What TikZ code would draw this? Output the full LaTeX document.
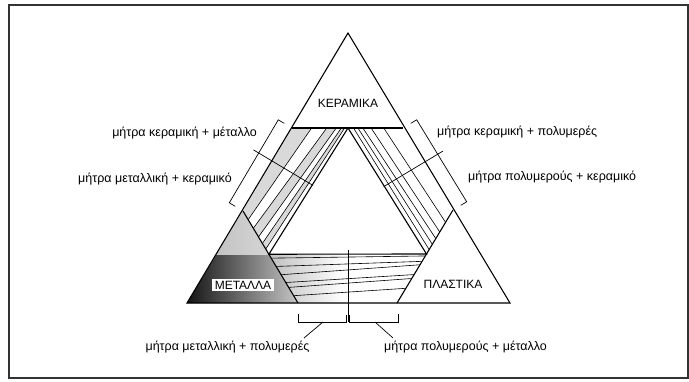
\documentclass[tikz,border=0pt]{standalone}
\usepackage{fontspec}
\setmainfont{Liberation Sans}
\usetikzlibrary{calc}
\begin{document}
\begin{tikzpicture}[x=1pt,y=-1pt,
  edge/.style={line width=1.1pt, line join=miter},
  band/.style={line width=0.6pt},
  brk/.style={line width=0.7pt},
  lbl/.style={font=\fontsize{12.5}{14}\selectfont, inner sep=0pt},
  captxt/.style={font=\fontsize{12}{14}\selectfont, inner sep=1.5pt}]
\useasboundingbox (0,0) rectangle (689,381);
\draw[line width=2pt, black!80] (9,5) rectangle (688,378);
% main points
\coordinate (A) at (348,33);
\coordinate (BL) at (187,303);
\coordinate (BR) at (510,303);
\coordinate (TL) at (292,128);
\coordinate (TR) at (403,128);
\coordinate (TM) at (348,128);
\coordinate (MR) at (298,303);
\coordinate (MA) at (243,211);
\coordinate (PL) at (397,303);
\coordinate (PA) at (453,210);
\coordinate (IL) at ($(MA)!0.47!(MR)$);
\coordinate (IR) at ($(PA)!0.473!(PL)$);
% METALLA shading
\fill[gray!40] (BL) -- (MR) -- (MA) -- cycle;
\begin{scope}
  \clip (BL) -- (MR) -- (MA) -- cycle;
  \shade[left color=black!92, middle color=black!80, right color=gray!45] (187,254) rectangle (298,305);
  \shade[left color=gray!55, right color=gray!25] (187,205) rectangle (298,254);
\end{scope}
% left band strips
\foreach \pa/\qa/\pb/\qb in {0/0/0.35/0.2, 0.62/0.4/0.79/0.6, 0.88/0.75/0.94/0.88}
  \fill[gray!30] ($(TL)!\pa!(TM)$) -- ($(TL)!\pb!(TM)$) -- ($(MA)!\qb!(IL)$) -- ($(MA)!\qa!(IL)$) -- cycle;
% bottom band shading
\begin{scope}
  \clip (IL) -- (IR) -- (PL) -- (MR) -- cycle;
  \shade[left color=gray!50, right color=white] (268,254) rectangle (345,303);
\end{scope}
% band lines
\foreach \p/\q in {0.35/0.2,0.62/0.4,0.79/0.6,0.88/0.75,0.94/0.88}
  \draw[band] ($(TL)!\p!(TM)$) -- ($(MA)!\q!(IL)$);
\foreach \p/\q in {0.1/0.1,0.18/0.22,0.27/0.35,0.42/0.5,0.65/0.72}
  \draw[band] ($(TM)!\p!(TR)$) -- ($(IR)!\q!(PA)$);
\foreach \t/\s in {0.08/0.04,0.25/0.15,0.42/0.22,0.58/0.42,0.68/0.5,0.85/0.7}
  \draw[band] ($(IL)!\t!(MR)$) -- ($(IR)!\s!(PL)$);
% triangles
\draw[edge] (A) -- (BL) -- (BR) -- cycle;
\draw[edge] (TL) -- (TR);
\draw[edge] (MA) -- (MR);
\draw[edge] (PA) -- (PL);
\draw[edge] (IL) -- (TM) -- (IR) -- cycle;
% left bracket
\coordinate (LB1) at (284.3,123.4);
\coordinate (LB2) at (278.3,119.8);
\coordinate (LB3) at (229.3,202.8);
\coordinate (LB4) at (235.3,206.4);
\coordinate (LC1) at (253.5,149.9);
\coordinate (LC2) at (312.8,185.3);
\draw[brk] (LB1) -- (LB2) -- (LB3) -- (LB4);
\draw[brk] (LC1) -- (LC2);
% right bracket
\coordinate (RB1) at (410.7,123.4);
\coordinate (RB2) at (416.7,119.8);
\coordinate (RB3) at (466.7,201.8);
\coordinate (RB4) at (460.7,205.4);
\coordinate (RC1) at (442.9,151.1);
\coordinate (RC2) at (383.7,186.6);
\draw[brk] (RB1) -- (RB2) -- (RB3) -- (RB4);
\draw[brk] (RC1) -- (RC2);
% bottom brackets
\coordinate (BB1) at (298,314);
\coordinate (BB2) at (298,322);
\coordinate (BB3) at (346.5,322);
\coordinate (BB4) at (346.5,315);
\coordinate (BB5) at (349.5,315);
\coordinate (BB6) at (349.5,322);
\coordinate (BB7) at (398,322);
\coordinate (BB8) at (398,314);
\coordinate (BC1) at (348,250);
\coordinate (BC2) at (348,322);
\draw[brk] (BB1) -- (BB2) -- (BB3) -- (BB4);
\draw[brk] (BB5) -- (BB6) -- (BB7) -- (BB8);
\draw[brk] (BC1) -- (BC2);
% labels
\node[captxt] (ker) at (348,103) {ΚΕΡΑΜΙΚΑ};
\node[captxt, fill=white, inner xsep=2.5pt, inner ysep=2pt] (met) at (243,285) {ΜΕΤΑΛΛΑ};
\node[captxt] (pla) at (453,284) {ΠΛΑΣΤΙΚΑ};
\node[lbl, anchor=east] (l1) at (257,133) {μήτρα κεραμική + μέταλλο};
\node[lbl, anchor=east] (l2) at (232,179) {μήτρα μεταλλική + κεραμικό};
\node[lbl, anchor=west] (r1) at (437,132) {μήτρα κεραμική + πολυμερές};
\node[lbl, anchor=west] (r2) at (468,177) {μήτρα πολυμερούς + κεραμικό};
\node[lbl] (b1) at (227.5,347) {μήτρα μεταλλική + πολυμερές};
\node[lbl] (b2) at (465.5,347) {μήτρα πολυμερούς + μέταλλο};
\coordinate (BL1) at (323,322);
\coordinate (BL1e) at (304,338);
\coordinate (BL2) at (375,322);
\coordinate (BL2e) at (393,338);
\draw[brk] (BL1) -- (BL1e);
\draw[brk] (BL2) -- (BL2e);
\end{tikzpicture}
\end{document}
